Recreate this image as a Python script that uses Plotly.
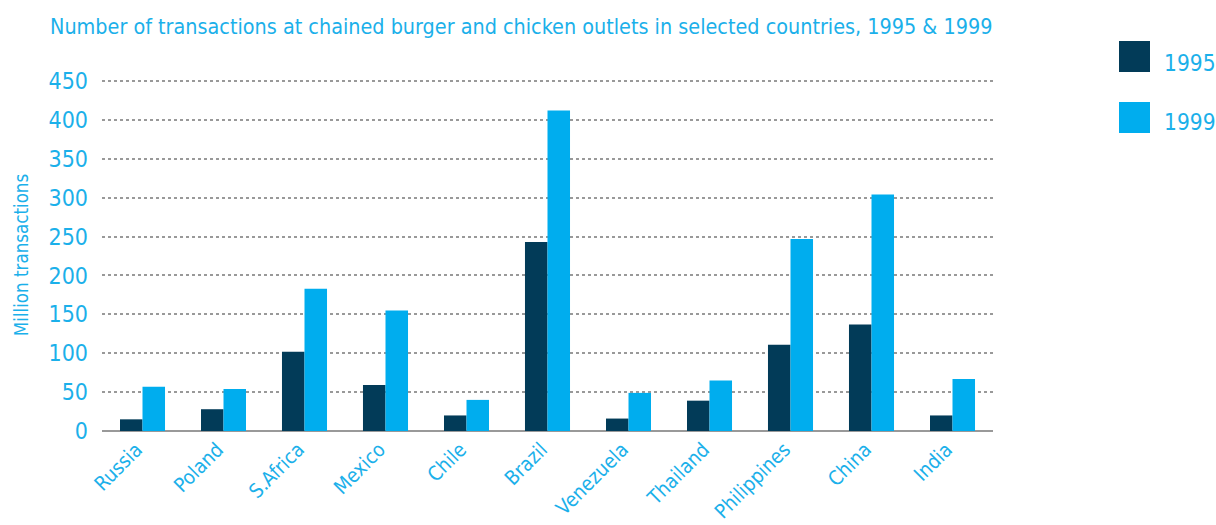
import plotly.graph_objects as go

# Transactions (millions) at chained burger and chicken outlets
countries = ["Russia", "Poland", "S.Africa", "Mexico", "Chile", "Brazil",
             "Venezuela", "Thailand", "Philippines", "China", "India"]
tx_1995 = [15, 28, 102, 59, 20, 243, 16, 39, 111, 137, 20]
tx_1999 = [57, 54, 183, 155, 40, 412, 49, 65, 247, 304, 67]
series_names = ["1995", "1999"]
y_ticks = [0, 50, 100, 150, 200, 250, 300, 350, 400, 450]

DARK = "#023B58"
LIGHT = "#00ADEE"
TEXT = "#1BB0EA"
FONT = "DejaVu Sans Condensed, Liberation Sans Narrow, Arial Narrow, sans-serif"

fig = go.Figure()
for name, vals, col in zip(series_names, [tx_1995, tx_1999], [DARK, LIGHT]):
    fig.add_trace(go.Bar(x=countries, y=vals, name=name, marker_color=col,
                         marker_line_width=0, showlegend=False))

# plot area spans 352 px vertically; a little headroom keeps the 450 gridline visible
PLOT_H = 352.0
def py(pix_from_top):
    return (431.0 - pix_from_top) / PLOT_H

# hand-drawn legend: big square swatches with labels to the right
legend_rows = [(41, 72, 63), (102, 133, 122)]
for (top, bot, ty), name, col in zip(legend_rows, series_names, [DARK, LIGHT]):
    fig.add_shape(type="rect", xref="paper", yref="paper",
                  x0=1.1414, x1=1.1762, y0=py(bot), y1=py(top),
                  fillcolor=col, line_width=0)
    fig.add_annotation(xref="paper", yref="paper", x=1.190, y=py(ty),
                       xanchor="left", yanchor="middle", text=name,
                       showarrow=False, font=dict(size=22.5, color=TEXT, family=FONT))

fig.update_layout(
    width=1216, height=525,
    margin=dict(l=102, r=223, t=79, b=94, autoexpand=False),
    paper_bgcolor="white", plot_bgcolor="white",
    barmode="group", bargap=0.444, bargroupgap=0,
    font=dict(family=FONT, color=TEXT),
    title=dict(text="Number of transactions at chained burger and chicken outlets in selected countries, 1995 & 1999",
               xref="container", x=50 / 1216, xanchor="left",
               yref="container", y=1 - 27 / 525, yanchor="middle",
               font=dict(size=21.4, color=TEXT, family=FONT)),
    xaxis=dict(tickangle=-45, tickfont=dict(size=20, color=TEXT),
               showgrid=False, showline=False, ticks="", automargin=False,
               ticklabelshift=-6, ticklabelstandoff=2),
    yaxis=dict(range=[0, PLOT_H / 0.7777], tickvals=y_ticks, automargin=False,
               tickfont=dict(size=23, color=TEXT),
               showgrid=True, gridcolor="#999999", gridwidth=1.5,
               griddash="3px,3px",
               zeroline=True, zerolinecolor="#999999", zerolinewidth=2,
               ticks="", ticklabelstandoff=13,
               title=dict(text="Million transactions", standoff=14,
                          font=dict(size=18.6, color=TEXT))),
)

fig.write_html("out.html")
